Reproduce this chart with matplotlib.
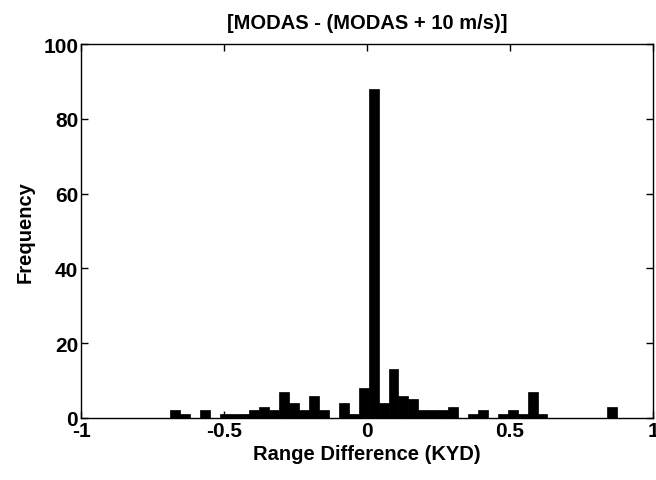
import numpy as np
import matplotlib
matplotlib.use("Agg")
import matplotlib.pyplot as plt

matplotlib.rcParams['font.family'] = ['Liberation Sans', 'DejaVu Sans']
matplotlib.rcParams['font.weight'] = 'bold'

# histogram of range differences (KYD), 45 equal bins
bin_lo = -0.689
bin_width = 0.03473
counts = [2, 1, 0, 2, 0, 1, 1, 1, 2, 3,
          2, 7, 4, 2, 6, 2, 0, 4, 1, 8,
          88, 4, 13, 6, 5, 2, 2, 2, 3, 0,
          1, 2, 0, 1, 2, 1, 7, 1, 0, 0,
          0, 0, 0, 0, 3]
xticks = [-1, -0.5, 0, 0.5, 1]
xticklabels = ["-1", "-0.5", "0", "0.5", "1"]
yticks = [0, 20, 40, 60, 80, 100]

edges = bin_lo + bin_width * np.arange(len(counts))

fig = plt.figure(figsize=(6.56, 4.81), dpi=100)
ax = fig.add_axes([0.1235, 0.129, 0.872, 0.777])
ax.bar(edges, counts, width=bin_width, align='edge', color='black',
       edgecolor='black', linewidth=0.5)
ax.set_xlim(-1, 1)
ax.set_ylim(0, 100)
ax.set_xticks(xticks)
ax.set_xticklabels(xticklabels)
ax.set_yticks(yticks)
ax.tick_params(direction='in', top=True, right=True, labelsize=15, length=5, width=1, pad=2)
for s in ax.spines.values():
    s.set_linewidth(1)
ax.set_xlabel("Range Difference (KYD)", fontsize=14.5, fontweight='bold', labelpad=3)
ax.set_ylabel("Frequency", fontsize=14.5, fontweight='bold', labelpad=6)
ax.set_title("[MODAS - (MODAS + 10 m/s)]", fontsize=14.5, fontweight='bold', pad=12)

fig.savefig("out.png", dpi=100)
